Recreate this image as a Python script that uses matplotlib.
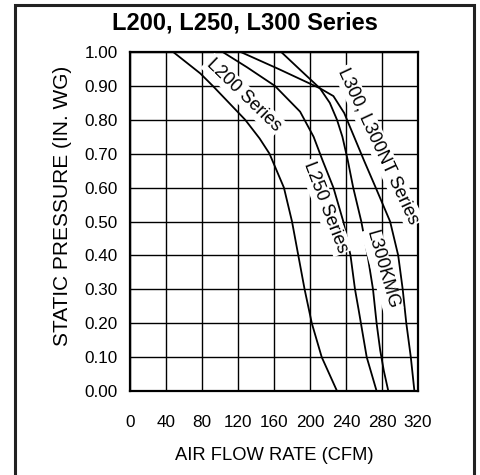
import matplotlib
matplotlib.use("Agg")
import matplotlib.pyplot as plt
from matplotlib.patches import Rectangle

plt.rcParams['font.family'] = ['Liberation Sans', 'DejaVu Sans']

title = "L200, L250, L300 Series"
x_label = "AIR FLOW RATE (CFM)"
y_label = "STATIC PRESSURE (IN. WG)"
x_ticks = [0, 40, 80, 120, 160, 200, 240, 280, 320]
y_ticks = [0.0, 0.1, 0.2, 0.3, 0.4, 0.5, 0.6, 0.7, 0.8, 0.9, 1.0]

# curve data (CFM, in. WG)
l200_cfm = [48, 78, 92, 128, 144, 155, 163, 171, 180, 187, 194, 202, 213, 230]
l200_sp = [1.00, 0.937, 0.90, 0.80, 0.745, 0.70, 0.65, 0.60, 0.50, 0.40, 0.30, 0.20, 0.10, 0.00]

l250_cfm = [103, 130, 161, 189, 204, 214, 226, 237, 245, 250, 254, 263, 274]
l250_sp = [1.00, 0.955, 0.90, 0.824, 0.75, 0.68, 0.60, 0.50, 0.40, 0.30, 0.24, 0.10, 0.00]

l300kmg_cfm = [168, 190, 211, 222, 230, 236, 242, 248, 257, 264, 270, 274, 278, 282, 287]
l300kmg_sp = [1.00, 0.945, 0.893, 0.85, 0.80, 0.75, 0.68, 0.60, 0.50, 0.40, 0.30, 0.20, 0.12, 0.06, 0.00]

l300_cfm = [123, 165, 211, 226, 238, 249, 260, 273, 289, 298, 303, 307, 312, 316]
l300_sp = [1.00, 0.95, 0.893, 0.87, 0.82, 0.75, 0.68, 0.60, 0.50, 0.40, 0.30, 0.20, 0.10, 0.00]

curve_labels = ["L200 Series", "L250 Series", "L300KMG", "L300, L300NT Series"]
label_cfm = [126, 217, 280, 276]
label_sp = [0.873, 0.543, 0.357, 0.723]
label_rot = [-44, -69, -74, -65]

W, H = 481, 475
fig = plt.figure(figsize=(W / 100, H / 100), dpi=100)
ax = fig.add_axes([130 / W, 84 / H, 288 / W, 339 / H])

for xs, ys in [(l200_cfm, l200_sp), (l250_cfm, l250_sp),
               (l300kmg_cfm, l300kmg_sp), (l300_cfm, l300_sp)]:
    ax.plot(xs, ys, color='black', lw=1.3, zorder=3, solid_joinstyle='round')

ax.set_xlim(0, 320)
ax.set_ylim(0, 1.0)
ax.set_xticks(x_ticks)
ax.set_yticks(y_ticks)
ax.set_xticklabels([str(t) for t in x_ticks], fontsize=12.3)
ax.set_yticklabels([f"{t:.2f}" for t in y_ticks], fontsize=12.3)
ax.tick_params(axis='both', length=0, colors='black')
ax.tick_params(axis='x', pad=17)
ax.tick_params(axis='y', pad=9)
ax.grid(True, color='black', lw=1.0, zorder=1)
ax.set_axisbelow(True)
for s in ax.spines.values():
    s.set_linewidth(1.6)
    s.set_color('black')

for t, cx, cy, r in zip(curve_labels, label_cfm, label_sp, label_rot):
    ax.text(cx, cy, t, rotation=r, rotation_mode='anchor', ha='center', va='center',
            fontsize=13, zorder=5,
            bbox=dict(boxstyle='square,pad=0.1', fc='white', ec='none'))

fig.text(274 / W, 1 - 456 / H, x_label, ha='center', va='center', fontsize=13.2)
fig.text(63 / W, 1 - 206 / H, y_label, ha='center', va='center', rotation=90, fontsize=15)
fig.text(245 / W, 1 - 23 / H, title, ha='center', va='center', fontsize=17, fontweight='bold')

fig.patches.append(Rectangle((15 / W, -0.02), (474 - 15) / W, 1.02 - 5 / H,
                             transform=fig.transFigure, fill=False,
                             ec='#222222', lw=2.2, clip_on=False))

fig.savefig("out.png", dpi=100)
